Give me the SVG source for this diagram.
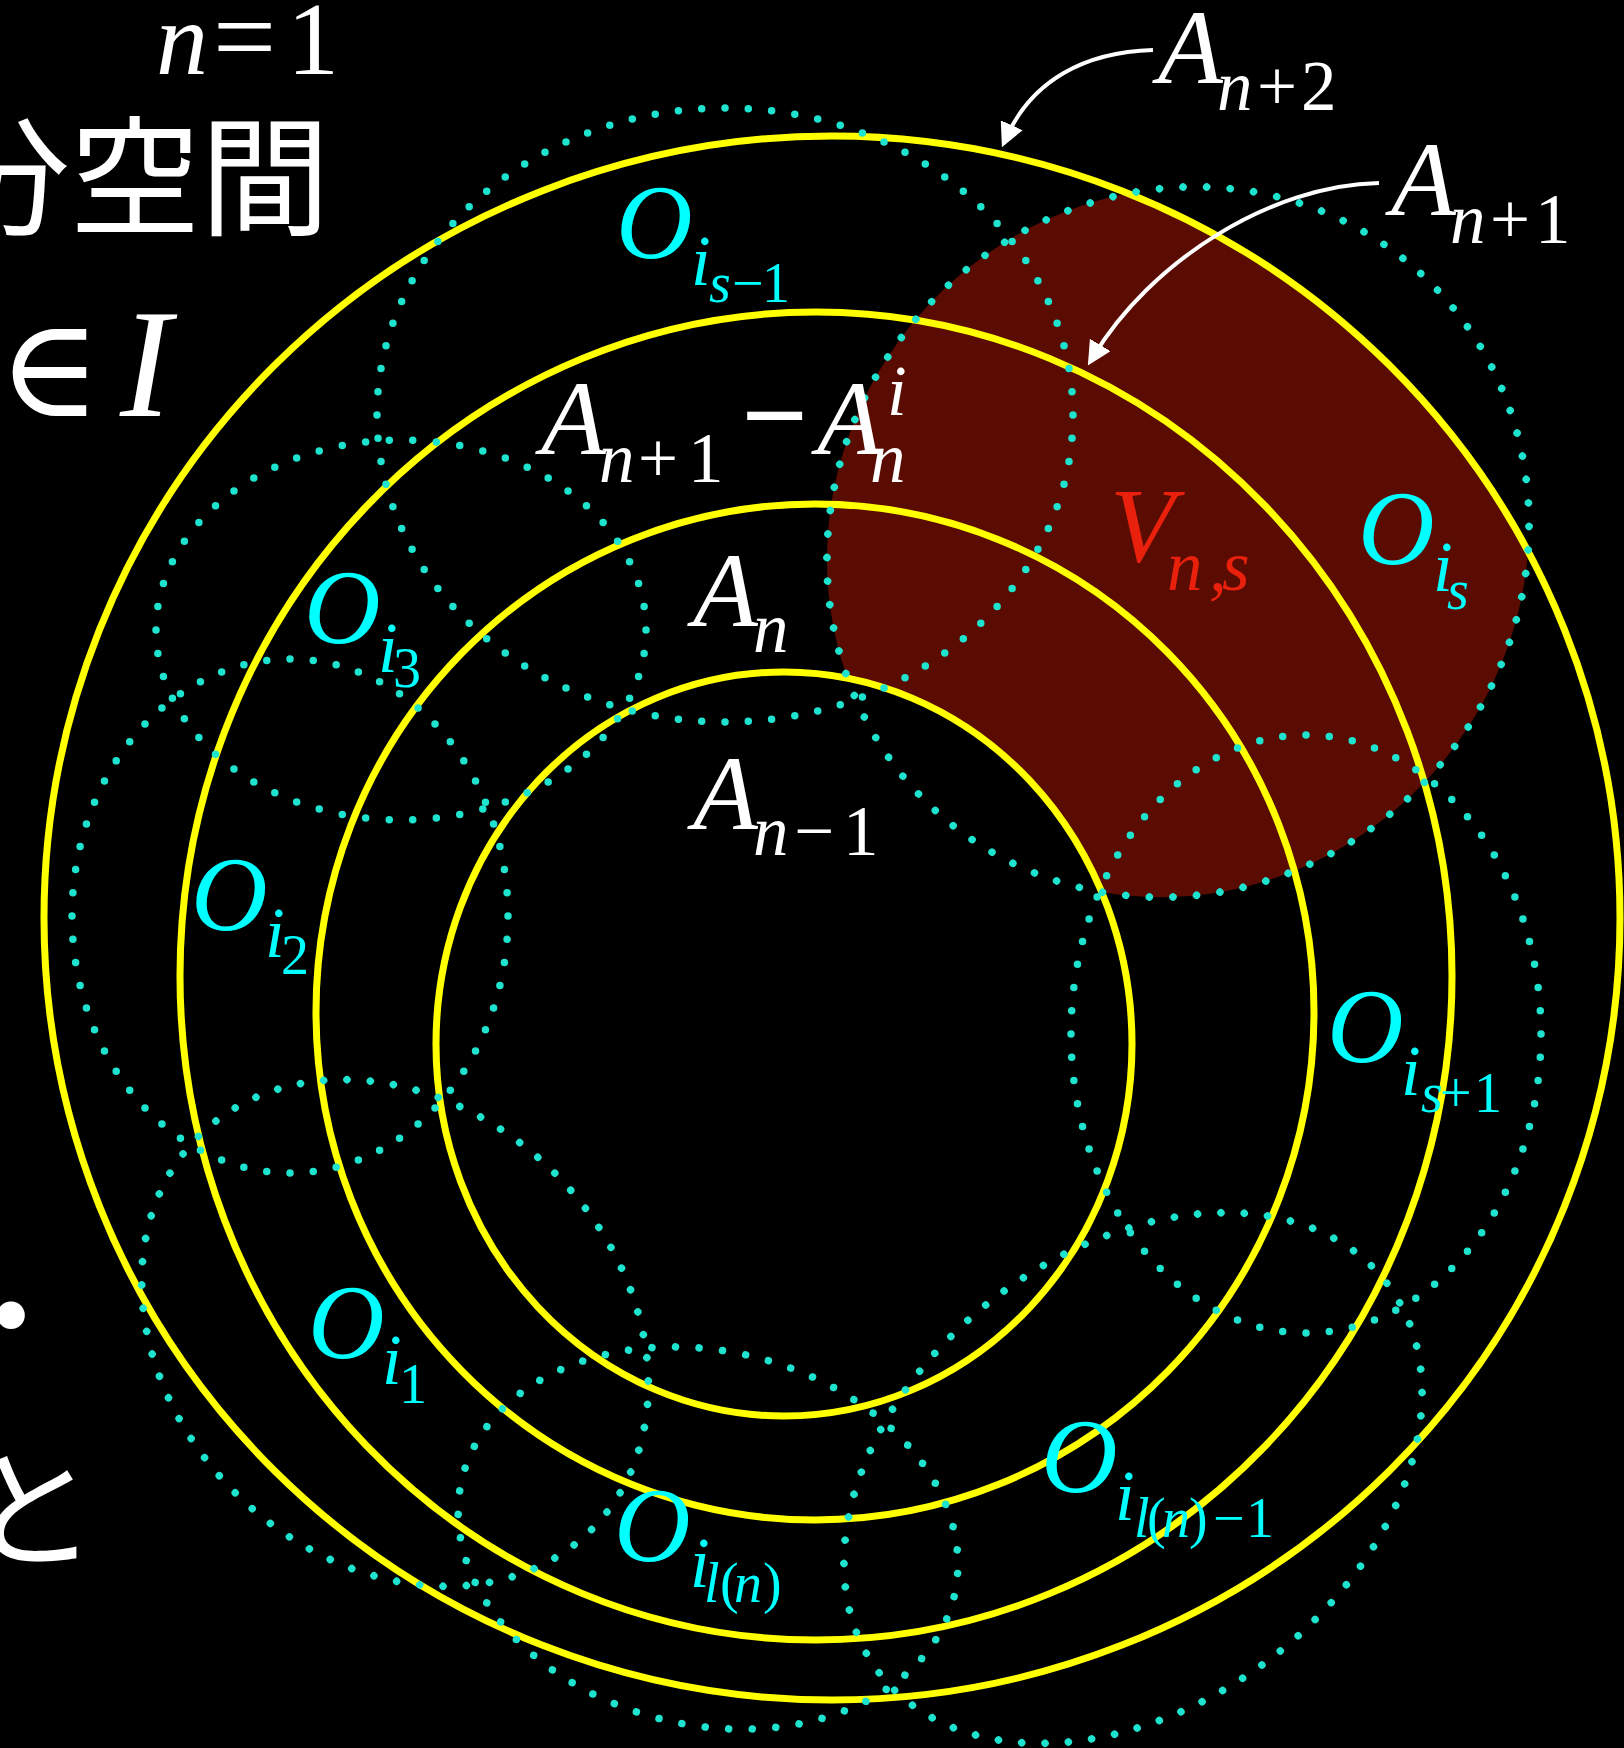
<svg xmlns="http://www.w3.org/2000/svg" width="1624" height="1748" viewBox="0 0 1624 1748">
<defs>
<style>
.m{font-family:"Liberation Serif","Times New Roman","DejaVu Serif",serif}
.it{font-style:italic}
.L{font-size:106px}.S{font-size:71px}.SS{font-size:56px}
.w{fill:#ffffff}.c{fill:#00ffff}.r{fill:#e8200c}
.ring{fill:none;stroke:#ffff00;stroke-width:7}
.dot{fill:none;stroke:#1ee3cf;stroke-width:7.5;stroke-linecap:round;stroke-dasharray:0 1}
.jp{font-family:"Noto Sans CJK JP",sans-serif;font-size:130px;fill:#ffffff}
.arr{fill:none;stroke:#ffffff;stroke-width:4;marker-end:url(#ah)}
</style>
<mask id="vmask" maskUnits="userSpaceOnUse" x="0" y="0" width="1624" height="1748">
<ellipse cx="832" cy="918" rx="788" ry="782" fill="#fff"/>
<ellipse cx="784" cy="1044" rx="348" ry="372" fill="#000"/>
</mask>
<marker id="ah" viewBox="0 0 24 24" refX="14" refY="12" markerWidth="24" markerHeight="24" markerUnits="userSpaceOnUse" orient="auto">
<path d="M0,0 L24,12 L0,24 Z" fill="#ffffff"/>
</marker>
</defs>
<rect x="0" y="0" width="1624" height="1748" fill="#000000"/>

<g id="V-region" mask="url(#vmask)">
<ellipse cx="1178" cy="542" rx="362" ry="344" transform="rotate(-51.6 1178 542)" fill="#5a0c02"/>
</g>

<g id="rings">
<ellipse id="A-n+2" class="ring" cx="832" cy="918" rx="788" ry="782"/>
<ellipse id="A-n+1" class="ring" cx="816" cy="976" rx="636" ry="664"/>
<ellipse id="A-n" class="ring" cx="815" cy="1012" rx="499" ry="508"/>
<ellipse id="A-n-1" class="ring" cx="784" cy="1044" rx="348" ry="372"/>
</g>

<g id="covers">
<ellipse id="O-is-1" class="dot" pathLength="88" cx="725" cy="415" rx="348" ry="307"/>
<ellipse id="O-is" class="dot" pathLength="94" cx="1178" cy="542" rx="362" ry="344" transform="rotate(-51.6 1178 542)"/>
<ellipse id="O-is+1" class="dot" pathLength="72" cx="1306" cy="1034" rx="235" ry="299"/>
<ellipse id="O-iln-1" class="dot" pathLength="74" cx="1133" cy="1478" rx="320" ry="227" transform="rotate(-37.5 1133 1478)"/>
<ellipse id="O-iln" class="dot" pathLength="59" cx="708" cy="1538" rx="253" ry="187" transform="rotate(13.4 708 1538)"/>
<ellipse id="O-i1" class="dot" pathLength="68" cx="395" cy="1333" rx="278" ry="226" transform="rotate(45 395 1333)"/>
<ellipse id="O-i2" class="dot" pathLength="64" cx="290" cy="916" rx="218" ry="257"/>
<ellipse id="O-i3" class="dot" pathLength="58" cx="401" cy="630" rx="245" ry="190"/>
</g>

<g id="connectors">
<path class="arr" d="M1153,50 C1085,52 1032,80 1006,138"/>
<path class="arr" d="M1379,183 C1270,185 1150,262 1093,357"/>
</g>

<g id="side-text">
<text class="jp" x="-60" y="225">分空間</text>
<text class="m w" y="416"><tspan x="-2" font-size="139">∈</tspan><tspan class="it" x="120" font-size="154">I</tspan></text>
<text class="m w" y="74" font-size="104"><tspan class="it" x="156">n</tspan><tspan x="213" font-size="112">=</tspan><tspan x="287">1</tspan></text>
<text class="jp" x="-54" y="1364">・</text>
<text class="jp" x="-33" y="1557">と</text>
</g>

<g id="label-An+2">
<text class="m w"><tspan class="it L" x="1158" y="83">A</tspan><tspan class="it S" x="1217" y="110">n</tspan><tspan class="S" x="1257" y="110">+</tspan><tspan class="S" x="1301" y="110">2</tspan></text>
</g>
<g id="label-An+1">
<text class="m w"><tspan class="it L" x="1391" y="215">A</tspan><tspan class="it S" x="1450" y="243">n</tspan><tspan class="S" x="1490" y="243">+</tspan><tspan class="S" x="1535" y="243">1</tspan></text>
</g>
<g id="label-Ois-1">
<text class="m c"><tspan class="it L" x="616" y="258">O</tspan><tspan class="it S" x="691" y="285">i</tspan><tspan class="it SS" x="709" y="302">s</tspan><tspan class="SS" x="732" y="302">−</tspan><tspan class="SS" x="762" y="302">1</tspan></text>
</g>
<g id="label-Vns">
<text class="m r"><tspan class="it L" x="1110" y="561">V</tspan><tspan class="it S" x="1167" y="590">n</tspan><tspan class="it S" x="1209" y="590">,</tspan><tspan class="it S" x="1222" y="590">s</tspan></text>
</g>
<g id="label-Ois">
<text class="m c"><tspan class="it L" x="1358" y="564">O</tspan><tspan class="it S" x="1433" y="591">i</tspan><tspan class="it SS" x="1447" y="609">s</tspan></text>
</g>
<g id="label-diff">
<text class="m w"><tspan class="it L" x="541" y="454">A</tspan><tspan class="it S" x="599" y="482">n</tspan><tspan class="S" x="638" y="482">+</tspan><tspan class="S" x="688" y="482">1</tspan><tspan x="741" y="455" font-size="118" font-weight="bold">−</tspan><tspan class="it L" x="817" y="454">A</tspan><tspan class="it S" x="870" y="482">n</tspan><tspan class="it S" x="887" y="415">i</tspan></text>
</g>
<g id="label-An">
<text class="m w"><tspan class="it L" x="693" y="626">A</tspan><tspan class="it S" x="753" y="652">n</tspan></text>
</g>
<g id="label-An-1">
<text class="m w"><tspan class="it L" x="693" y="829">A</tspan><tspan class="it S" x="753" y="855">n</tspan><tspan class="S" x="794" y="855">−</tspan><tspan class="S" x="843" y="855">1</tspan></text>
</g>
<g id="label-Oi3">
<text class="m c"><tspan class="it L" x="304" y="643">O</tspan><tspan class="it S" x="378" y="672">i</tspan><tspan class="SS" x="393" y="687">3</tspan></text>
</g>
<g id="label-Oi2">
<text class="m c"><tspan class="it L" x="191" y="930">O</tspan><tspan class="it S" x="265" y="957">i</tspan><tspan class="SS" x="281" y="974">2</tspan></text>
</g>
<g id="label-Oi1">
<text class="m c"><tspan class="it L" x="308" y="1358">O</tspan><tspan class="it S" x="382" y="1384">i</tspan><tspan class="SS" x="399" y="1403">1</tspan></text>
</g>
<g id="label-Oiln">
<text class="m c"><tspan class="it L" x="614" y="1561">O</tspan><tspan class="it S" x="690" y="1587">i</tspan><tspan class="it SS" x="704" y="1602">l</tspan><tspan class="SS" x="720" y="1602">(</tspan><tspan class="it SS" x="734" y="1602">n</tspan><tspan class="SS" x="763" y="1602">)</tspan></text>
</g>
<g id="label-Ois+1">
<text class="m c"><tspan class="it L" x="1327" y="1062">O</tspan><tspan class="it S" x="1401" y="1095">i</tspan><tspan class="it SS" x="1421" y="1112">s</tspan><tspan class="SS" x="1440" y="1112">+</tspan><tspan class="SS" x="1474" y="1112">1</tspan></text>
</g>
<g id="label-Oiln-1">
<text class="m c"><tspan class="it L" x="1041" y="1492">O</tspan><tspan class="it S" x="1115" y="1520">i</tspan><tspan class="it SS" x="1134" y="1537">l</tspan><tspan class="SS" x="1147" y="1537">(</tspan><tspan class="it SS" x="1162" y="1537">n</tspan><tspan class="SS" x="1189" y="1537">)</tspan><tspan class="SS" x="1213" y="1537">−</tspan><tspan class="SS" x="1246" y="1537">1</tspan></text>
</g>
</svg>
